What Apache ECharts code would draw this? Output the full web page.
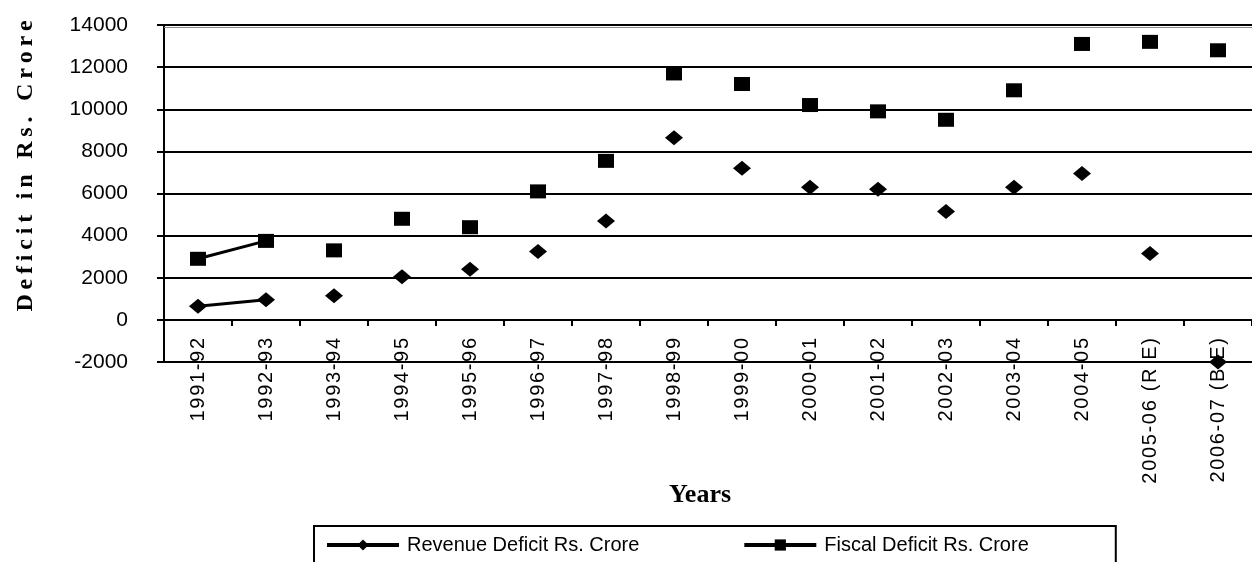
<!DOCTYPE html>
<html>
<head>
<meta charset="utf-8">
<title>Revenue and Fiscal Deficit</title>
<script src="https://cdn.jsdelivr.net/npm/echarts@6/dist/echarts.min.js"></script>
<style>
  html, body { margin: 0; padding: 0; background: #fff; }
  #chart { width: 1252px; height: 562px; }
</style>
</head>
<body>
<div id="chart"></div>
<script>
  // data (Rs. Crore)
  const years = ['1991-92', '1992-93', '1993-94', '1994-95', '1995-96', '1996-97', '1997-98', '1998-99',
    '1999-00', '2000-01', '2001-02', '2002-03', '2003-04', '2004-05', '2005-06 (R E)', '2006-07 (B E)'];
  const revenueDeficit = [650, 950, 1150, 2050, 2400, 3250, 4700, 8650, 7200, 6300, 6200, 5150, 6300, 6950, 3150, -2000];
  const fiscalDeficit = [2900, 3750, 3300, 4800, 4400, 6100, 7550, 11700, 11200, 10200, 9900, 9500, 10900, 13100, 13200, 12800];
  const yTicks = [-2000, 0, 2000, 4000, 6000, 8000, 10000, 12000, 14000];
  // only the first two points are joined by a line in the original
  const joinedPoints = 2;

  const revName = 'Revenue Deficit Rs. Crore';
  const fisName = 'Fiscal Deficit Rs. Crore';

  // Excel-like letter spacing, done with thin / hair spaces
  const spaced = (s, gap) => s.split('').join(gap);

  const chart = echarts.init(document.getElementById('chart'));
  chart.setOption({
    animation: false,
    grid: {
      left: 164,
      right: -8,
      top: 25,
      bottom: 200,
    },
    xAxis: {
      type: 'category',
      data: years,
      boundaryGap: true,
      axisLine: {onZero: true, lineStyle: {color: '#000', width: 2}},
      axisTick: {show: true, interval: 0, length: 6, lineStyle: {color: '#000', width: 2}},
      axisLabel: {
        interval: 0,
        rotate: 90,
        margin: -24,   // labels hang from the zero line, not the grid bottom
        color: '#000',
        fontFamily: 'Liberation Sans, Arial, sans-serif',
        fontSize: 20,
        formatter: (v) => spaced(v, '\u200A'),
      },
      splitLine: {show: false},
    },
    yAxis: {
      type: 'value',
      min: yTicks[0],
      max: yTicks[yTicks.length - 1],
      interval: 2000,
      axisLine: {show: true, lineStyle: {color: '#000', width: 2}},
      axisTick: {show: true, length: 7, lineStyle: {color: '#000', width: 2}},
      axisLabel: {
        margin: 36,
        color: '#000',
        fontFamily: 'Liberation Sans, Arial, sans-serif',
        fontSize: 21,
        formatter: (v) => String(v),
      },
      splitLine: {show: true, lineStyle: {color: '#000', width: 2}},
    },
    legend: {
      data: [revName, fisName],
      left: 314,
      top: 526,
      orient: 'horizontal',
      padding: [8, 87, 40, 11],
      itemGap: 103,
      itemWidth: 72,
      itemHeight: 14,
      borderColor: '#000',
      borderWidth: 2,
      borderRadius: 0,
      lineStyle: {width: 4, opacity: 1, color: '#000'},
      textStyle: {
        color: '#000',
        fontFamily: 'Liberation Sans, Arial, sans-serif',
        fontSize: 20,
        lineHeight: 22,
        padding: [0, 0, 0, 3],
      },
    },
    graphic: [
      {
        type: 'text',
        x: 26,
        y: 166,
        rotation: Math.PI / 2,
        style: {
          text: spaced('Deficit in Rs. Crore', '\u2009'),
          font: 'bold 24px "Liberation Serif", "Times New Roman", serif',
          fill: '#000',
          textAlign: 'center',
          textVerticalAlign: 'middle',
        },
      },
      {
        type: 'text',
        x: 700,
        y: 495,
        style: {
          text: 'Years',
          font: 'bold 26px "Liberation Serif", "Times New Roman", serif',
          fill: '#000',
          textAlign: 'center',
          textVerticalAlign: 'middle',
        },
      },
    ],
    series: [
      {
        name: revName,
        type: 'line',
        data: revenueDeficit,
        symbol: 'diamond',
        symbolSize: [18, 15],
        showAllSymbol: true,
        itemStyle: {color: '#000'},
        lineStyle: {color: '#000', opacity: 0},
        z: 3,
      },
      {
        name: fisName,
        type: 'line',
        data: fiscalDeficit,
        symbol: 'rect',
        symbolSize: [16, 14],
        showAllSymbol: true,
        itemStyle: {color: '#000'},
        lineStyle: {color: '#000', opacity: 0},
        z: 3,
        // faint grey rule just under the top gridline, as in the scan
        markLine: {
          silent: true,
          symbol: 'none',
          label: {show: false},
          lineStyle: {color: '#8a8a8a', width: 1, type: 'solid'},
          data: [{yAxis: 13880}],
        },
      },
      {
        name: 'revenue-link',
        type: 'line',
        data: revenueDeficit.slice(0, joinedPoints),
        symbol: 'none',
        silent: true,
        lineStyle: {color: '#000', width: 3},
        z: 2,
      },
      {
        name: 'fiscal-link',
        type: 'line',
        data: fiscalDeficit.slice(0, joinedPoints),
        symbol: 'none',
        silent: true,
        lineStyle: {color: '#000', width: 3},
        z: 2,
      },
    ],
  });
</script>
</body>
</html>
